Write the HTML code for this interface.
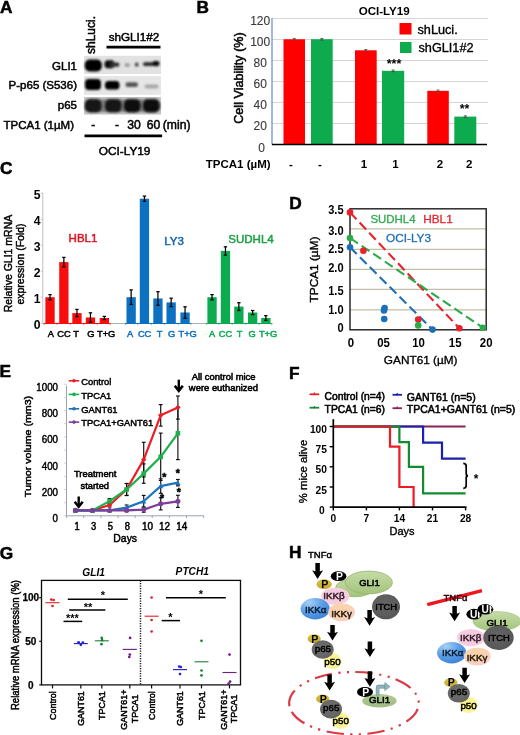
<!DOCTYPE html>
<html><head><meta charset="utf-8"><title>Figure</title>
<style>
html,body{margin:0;padding:0;background:#fff;}
body{width:520px;height:735px;overflow:hidden;font-family:"Liberation Sans",sans-serif;}
svg{display:block;font-family:"Liberation Sans",sans-serif;}
</style></head><body>
<svg width="520" height="735" viewBox="0 0 520 735">
<defs>
<filter id="blur1" x="-20%" y="-20%" width="140%" height="140%"><feGaussianBlur stdDeviation="0.9"/></filter>
<filter id="blur05" x="-20%" y="-20%" width="140%" height="140%"><feGaussianBlur stdDeviation="0.5"/></filter>
<filter id="softall" x="0" y="0" width="100%" height="100%" filterUnits="userSpaceOnUse"><feGaussianBlur stdDeviation="0.4"/></filter>
<filter id="soft" x="-5%" y="-5%" width="110%" height="110%"><feGaussianBlur stdDeviation="0.45"/></filter>

<radialGradient id="gBlue" cx="0.3" cy="0.2" r="0.9"><stop offset="0" stop-color="#a8cff6"/><stop offset="0.5" stop-color="#5b9fe6"/><stop offset="1" stop-color="#3a7fd6"/></radialGradient>
<radialGradient id="gPink" cx="0.5" cy="0.5" r="0.6"><stop offset="0" stop-color="#f7c4dc"/><stop offset="0.7" stop-color="#f6cde0"/><stop offset="1" stop-color="#f9dcea"/></radialGradient>
<radialGradient id="gPeach" cx="0.45" cy="0.4" r="0.65"><stop offset="0" stop-color="#fad3a8"/><stop offset="0.65" stop-color="#f9d2b4"/><stop offset="1" stop-color="#f8cfd0"/></radialGradient>
<linearGradient id="gGreen" x1="0" y1="0" x2="0" y2="1"><stop offset="0" stop-color="#c6dba6"/><stop offset="1" stop-color="#a3c47c"/></linearGradient>
<linearGradient id="gGreen2" x1="0" y1="0" x2="0" y2="1"><stop offset="0" stop-color="#b4cd98"/><stop offset="1" stop-color="#9dba82"/></linearGradient>
<radialGradient id="gGray" cx="0.45" cy="0.4" r="0.7"><stop offset="0" stop-color="#666"/><stop offset="1" stop-color="#555"/></radialGradient>
<radialGradient id="gGray2" cx="0.45" cy="0.4" r="0.7"><stop offset="0" stop-color="#707070"/><stop offset="1" stop-color="#606060"/></radialGradient>
<radialGradient id="gYel" cx="0.5" cy="0.5" r="0.55"><stop offset="0" stop-color="#f8f07c"/><stop offset="0.6" stop-color="#f8f28e"/><stop offset="1" stop-color="#fbf8c0"/></radialGradient>
<linearGradient id="gMust" x1="0" y1="0" x2="0" y2="1"><stop offset="0" stop-color="#d8c24a"/><stop offset="1" stop-color="#c4a92c"/></linearGradient>
</defs>
<rect x="0" y="0" width="520" height="735" fill="#fff"/>
<g filter="url(#softall)">
<g id="panelA"><text x="0" y="12.6" font-size="17.3" font-weight="bold" stroke="#000" stroke-width="0.5" text-anchor="start" fill="#000">A</text><text x="95.2" y="54" font-size="12" font-weight="normal" text-anchor="start" fill="#000" transform="rotate(-90 95.2 54)" stroke="#000" stroke-width="0.5" stroke-linejoin="round">shLuci.</text><text x="134" y="41" font-size="11.7" font-weight="normal" text-anchor="middle" fill="#000" stroke="#000" stroke-width="0.5" stroke-linejoin="round">shGLI1#2</text><line x1="106.5" y1="47.2" x2="160.5" y2="47.2" stroke="#000" stroke-width="2.7"/><text x="77" y="70.2" font-size="11.5" font-weight="normal" text-anchor="end" fill="#000" stroke="#000" stroke-width="0.5" stroke-linejoin="round">GLI1</text><text x="77" y="89.4" font-size="11.5" font-weight="normal" text-anchor="end" fill="#000" stroke="#000" stroke-width="0.5" stroke-linejoin="round">P-p65 (S536)</text><text x="77" y="108.7" font-size="11.5" font-weight="normal" text-anchor="end" fill="#000" stroke="#000" stroke-width="0.5" stroke-linejoin="round">p65</text><text x="74" y="128.8" font-size="11.5" font-weight="normal" text-anchor="end" fill="#000" stroke="#000" stroke-width="0.5" stroke-linejoin="round">TPCA1 (1µM)</text><rect x="84" y="55.8" width="77" height="18.2" fill="#e2e2e2"/><rect x="84" y="76" width="77" height="18.8" fill="#e6e6e6"/><rect x="84" y="97" width="77" height="17.6" fill="#c6c6c6"/><g filter="url(#blur1)"><rect x="85" y="99.5" width="75" height="12.5" rx="5" ry="5" fill="#7d7d7d"/></g><g filter="url(#blur1)"><rect x="84.8" y="59.5" width="17" height="12" rx="5" ry="5" fill="#000"/><rect x="104.5" y="60.3" width="10" height="8" rx="3.5" ry="3.5" fill="#0a0a0a"/><rect x="110" y="62.5" width="9.5" height="4.2" rx="2" ry="2" fill="#333"/><rect x="124.5" y="63.2" width="5.5" height="3.6" rx="1.8" ry="1.8" fill="#999"/><rect x="134.8" y="62.6" width="3.8" height="4.2" rx="1.8" ry="1.8" fill="#4a4a4a"/><rect x="143" y="62.3" width="12" height="3.8" rx="1.8" ry="1.8" fill="#2a2a2a"/><rect x="152.5" y="61" width="7" height="5.2" rx="2.4" ry="2.4" fill="#0a0a0a"/><rect x="85" y="79" width="16" height="11" rx="4" ry="4" fill="#000"/><rect x="105" y="81" width="14.5" height="8.4" rx="3.5" ry="3.5" fill="#050505"/><rect x="125.5" y="82.3" width="12.5" height="4.6" rx="2.2" ry="2.2" fill="#555"/><rect x="144.5" y="84.6" width="14" height="3.8" rx="1.8" ry="1.8" fill="#a8a8a8"/><rect x="85" y="99.2" width="16.5" height="13" rx="5" ry="5" fill="#151515"/><rect x="105" y="99.2" width="16.5" height="13" rx="5" ry="5" fill="#181818"/><rect x="124" y="99.2" width="16.5" height="13" rx="5" ry="5" fill="#0c0c0c"/><rect x="143" y="99.2" width="16.5" height="13" rx="5" ry="5" fill="#0c0c0c"/></g><text x="93.3" y="128.8" font-size="12" font-weight="normal" text-anchor="middle" fill="#000" stroke="#000" stroke-width="0.5" stroke-linejoin="round">-</text><text x="117" y="128.8" font-size="12" font-weight="normal" text-anchor="middle" fill="#000" stroke="#000" stroke-width="0.5" stroke-linejoin="round">-</text><text x="134" y="129" font-size="12.2" font-weight="normal" text-anchor="middle" fill="#000" stroke="#000" stroke-width="0.5" stroke-linejoin="round">30</text><text x="153.5" y="129" font-size="12.2" font-weight="normal" text-anchor="middle" fill="#000" stroke="#000" stroke-width="0.5" stroke-linejoin="round">60</text><text x="162.8" y="129" font-size="12.2" font-weight="normal" text-anchor="start" fill="#000" stroke="#000" stroke-width="0.5" stroke-linejoin="round">(min)</text><line x1="84.5" y1="135.9" x2="162.1" y2="135.9" stroke="#000" stroke-width="2.8"/><text x="124.6" y="154.6" font-size="11.8" font-weight="normal" text-anchor="middle" fill="#000" stroke="#000" stroke-width="0.5" stroke-linejoin="round">OCI-LY19</text></g>
<g id="panelB"><text x="196.5" y="12.6" font-size="17.3" font-weight="bold" stroke="#000" stroke-width="0.5" text-anchor="start" fill="#000">B</text><text x="384.2" y="15" font-size="11.6" font-weight="bold" text-anchor="middle" fill="#000">OCI-LY19</text><line x1="272" y1="123.5" x2="488" y2="123.5" stroke="#d6d6d6" stroke-width="1"/><line x1="272" y1="102.5" x2="488" y2="102.5" stroke="#d6d6d6" stroke-width="1"/><line x1="272" y1="81.5" x2="488" y2="81.5" stroke="#d6d6d6" stroke-width="1"/><line x1="272" y1="60.5" x2="488" y2="60.5" stroke="#d6d6d6" stroke-width="1"/><line x1="272" y1="39.5" x2="488" y2="39.5" stroke="#d6d6d6" stroke-width="1"/><line x1="272" y1="18.5" x2="488" y2="18.5" stroke="#d6d6d6" stroke-width="1"/><line x1="272" y1="18" x2="272" y2="144.5" stroke="#6a97cf" stroke-width="1.3"/><text x="261.6" y="151.5" font-size="12" font-weight="normal" text-anchor="middle" fill="#3a3a3a" stroke="#3a3a3a" stroke-width="0.12" stroke-linejoin="round">0</text><text x="260.2" y="130.45" font-size="12" font-weight="normal" text-anchor="middle" fill="#3a3a3a" stroke="#3a3a3a" stroke-width="0.12" stroke-linejoin="round">20</text><text x="260.2" y="109.4" font-size="12" font-weight="normal" text-anchor="middle" fill="#3a3a3a" stroke="#3a3a3a" stroke-width="0.12" stroke-linejoin="round">40</text><text x="260.2" y="88.35" font-size="12" font-weight="normal" text-anchor="middle" fill="#3a3a3a" stroke="#3a3a3a" stroke-width="0.12" stroke-linejoin="round">60</text><text x="260.2" y="67.3" font-size="12" font-weight="normal" text-anchor="middle" fill="#3a3a3a" stroke="#3a3a3a" stroke-width="0.12" stroke-linejoin="round">80</text><text x="260.2" y="46.25" font-size="12" font-weight="normal" text-anchor="middle" fill="#3a3a3a" stroke="#3a3a3a" stroke-width="0.12" stroke-linejoin="round">100</text><text x="260.2" y="25.200000000000003" font-size="12" font-weight="normal" text-anchor="middle" fill="#3a3a3a" stroke="#3a3a3a" stroke-width="0.12" stroke-linejoin="round">120</text><rect x="283.5" y="39.25" width="21.5" height="105.25" fill="#fe0505"/><line x1="294.25" y1="38.45" x2="294.25" y2="40.05" stroke="#444" stroke-width="0.8"/><line x1="292.75" y1="38.45" x2="295.75" y2="38.45" stroke="#444" stroke-width="0.8"/><line x1="292.75" y1="40.05" x2="295.75" y2="40.05" stroke="#444" stroke-width="0.8"/><rect x="311" y="39.25" width="21.7" height="105.25" fill="#0cab4e"/><line x1="321.85" y1="38.45" x2="321.85" y2="40.05" stroke="#444" stroke-width="0.8"/><line x1="320.35" y1="38.45" x2="323.35" y2="38.45" stroke="#444" stroke-width="0.8"/><line x1="320.35" y1="40.05" x2="323.35" y2="40.05" stroke="#444" stroke-width="0.8"/><rect x="355" y="50.301249999999996" width="21.7" height="94.19875" fill="#fe0505"/><line x1="365.85" y1="49.50125" x2="365.85" y2="51.10124999999999" stroke="#444" stroke-width="0.8"/><line x1="364.35" y1="49.50125" x2="367.35" y2="49.50125" stroke="#444" stroke-width="0.8"/><line x1="364.35" y1="51.10124999999999" x2="367.35" y2="51.10124999999999" stroke="#444" stroke-width="0.8"/><rect x="382" y="70.825" width="22.2" height="73.675" fill="#0cab4e"/><line x1="393.1" y1="70.025" x2="393.1" y2="71.625" stroke="#444" stroke-width="0.8"/><line x1="391.6" y1="70.025" x2="394.6" y2="70.025" stroke="#444" stroke-width="0.8"/><line x1="391.6" y1="71.625" x2="394.6" y2="71.625" stroke="#444" stroke-width="0.8"/><rect x="427.3" y="90.82249999999999" width="21.5" height="53.6775" fill="#fe0505"/><line x1="438.05" y1="90.0225" x2="438.05" y2="91.62249999999999" stroke="#444" stroke-width="0.8"/><line x1="436.55" y1="90.0225" x2="439.55" y2="90.0225" stroke="#444" stroke-width="0.8"/><line x1="436.55" y1="91.62249999999999" x2="439.55" y2="91.62249999999999" stroke="#444" stroke-width="0.8"/><rect x="454.3" y="116.60875" width="22" height="27.89125" fill="#0cab4e"/><line x1="465.3" y1="115.80875" x2="465.3" y2="117.40875" stroke="#444" stroke-width="0.8"/><line x1="463.8" y1="115.80875" x2="466.8" y2="115.80875" stroke="#444" stroke-width="0.8"/><line x1="463.8" y1="117.40875" x2="466.8" y2="117.40875" stroke="#444" stroke-width="0.8"/><line x1="272" y1="144.5" x2="487" y2="144.5" stroke="#000" stroke-width="1.6"/><rect x="399.5" y="23" width="12" height="11.5" fill="#fe0505"/><text x="417.5" y="34.3" font-size="12.7" font-weight="normal" text-anchor="start" fill="#000" stroke="#000" stroke-width="0.35" stroke-linejoin="round">shLuci.</text><rect x="400" y="42" width="11.5" height="11" fill="#0cab4e"/><text x="418.5" y="52.4" font-size="12.7" font-weight="normal" text-anchor="start" fill="#000" stroke="#000" stroke-width="0.35" stroke-linejoin="round">shGLI1#2</text><text x="394" y="67.5" font-size="12.5" font-weight="bold" text-anchor="middle" fill="#000">***</text><text x="464.5" y="112.8" font-size="12.5" font-weight="bold" text-anchor="middle" fill="#000">**</text><text x="205.8" y="168" font-size="11.5" font-weight="bold" text-anchor="start" fill="#000">TPCA1 (µM)</text><text x="291" y="167.5" font-size="11.5" font-weight="bold" text-anchor="middle" fill="#000">-</text><text x="320" y="167.5" font-size="11.5" font-weight="bold" text-anchor="middle" fill="#000">-</text><text x="364" y="167.5" font-size="11.5" font-weight="bold" text-anchor="middle" fill="#000">1</text><text x="395.4" y="167.5" font-size="11.5" font-weight="bold" text-anchor="middle" fill="#000">1</text><text x="440" y="167.5" font-size="11.5" font-weight="bold" text-anchor="middle" fill="#000">2</text><text x="469.2" y="167.5" font-size="11.5" font-weight="bold" text-anchor="middle" fill="#000">2</text><text x="243.4" y="78" font-size="12.6" font-weight="normal" text-anchor="middle" fill="#000" transform="rotate(-90 243.4 78)" stroke="#000" stroke-width="0.5" stroke-linejoin="round">Cell Viability (%)</text></g>
<g id="panelC"><text x="0" y="174.3" font-size="17.3" font-weight="bold" stroke="#000" stroke-width="0.5" text-anchor="start" fill="#000">C</text><line x1="42.8" y1="193.2" x2="42.8" y2="323.5" stroke="#b0b0b0" stroke-width="0.8"/><line x1="40.8" y1="323.2" x2="42.8" y2="323.2" stroke="#b0b0b0" stroke-width="0.8"/><text x="40.5" y="328.8" font-size="12.2" font-weight="bold" text-anchor="end" fill="#000">0</text><line x1="40.8" y1="297.2" x2="42.8" y2="297.2" stroke="#b0b0b0" stroke-width="0.8"/><text x="40.5" y="302.8" font-size="12.2" font-weight="bold" text-anchor="end" fill="#000">1</text><line x1="40.8" y1="271.2" x2="42.8" y2="271.2" stroke="#b0b0b0" stroke-width="0.8"/><text x="40.5" y="276.8" font-size="12.2" font-weight="bold" text-anchor="end" fill="#000">2</text><line x1="40.8" y1="245.2" x2="42.8" y2="245.2" stroke="#b0b0b0" stroke-width="0.8"/><text x="40.5" y="250.8" font-size="12.2" font-weight="bold" text-anchor="end" fill="#000">3</text><line x1="40.8" y1="219.2" x2="42.8" y2="219.2" stroke="#b0b0b0" stroke-width="0.8"/><text x="40.5" y="224.8" font-size="12.2" font-weight="bold" text-anchor="end" fill="#000">4</text><line x1="40.8" y1="193.2" x2="42.8" y2="193.2" stroke="#b0b0b0" stroke-width="0.8"/><text x="40.5" y="198.8" font-size="12.2" font-weight="bold" text-anchor="end" fill="#000">5</text><text x="11.5" y="263.5" font-size="10.5" font-weight="normal" text-anchor="middle" fill="#000" transform="rotate(-90 11.5 263.5)" stroke="#000" stroke-width="0.45" stroke-linejoin="round">Relative GLI1 mRNA</text><text x="24" y="264" font-size="10.5" font-weight="normal" text-anchor="middle" fill="#000" transform="rotate(-90 24 264)" stroke="#000" stroke-width="0.45" stroke-linejoin="round">expression (Fold)</text><line x1="42.8" y1="323.5" x2="272.7" y2="323.5" stroke="#a8a8a8" stroke-width="0.9"/><line x1="44.199999999999996" y1="323.5" x2="110.2" y2="323.5" stroke="#f80b0c" stroke-width="1"/><line x1="44.2" y1="323.2" x2="44.2" y2="325.2" stroke="#f80b0c" stroke-width="0.7" opacity="0.7"/><line x1="57.0" y1="323.2" x2="57.0" y2="325.2" stroke="#f80b0c" stroke-width="0.7" opacity="0.7"/><line x1="70.4" y1="323.2" x2="70.4" y2="325.2" stroke="#f80b0c" stroke-width="0.7" opacity="0.7"/><line x1="83.7" y1="323.2" x2="83.7" y2="325.2" stroke="#f80b0c" stroke-width="0.7" opacity="0.7"/><line x1="97.4" y1="323.2" x2="97.4" y2="325.2" stroke="#f80b0c" stroke-width="0.7" opacity="0.7"/><line x1="110.2" y1="323.2" x2="110.2" y2="325.2" stroke="#f80b0c" stroke-width="0.7" opacity="0.7"/><rect x="45.4" y="297.2" width="9.3" height="26.0" fill="#f80b0c"/><line x1="50.05" y1="294.6" x2="50.05" y2="299.8" stroke="#000" stroke-width="1.25"/><line x1="48.349999999999994" y1="294.6" x2="51.75" y2="294.6" stroke="#000" stroke-width="1.25"/><line x1="48.349999999999994" y1="299.8" x2="51.75" y2="299.8" stroke="#000" stroke-width="1.25"/><rect x="59.2" y="262.1" width="9.3" height="61.1" fill="#f80b0c"/><line x1="63.85" y1="257.4" x2="63.85" y2="266.8" stroke="#000" stroke-width="1.25"/><line x1="62.15" y1="257.4" x2="65.55" y2="257.4" stroke="#000" stroke-width="1.25"/><line x1="62.15" y1="266.8" x2="65.55" y2="266.8" stroke="#000" stroke-width="1.25"/><rect x="72.3" y="313.1" width="9.3" height="10.1" fill="#f80b0c"/><line x1="76.95" y1="309.4" x2="76.95" y2="316.7" stroke="#000" stroke-width="1.25"/><line x1="75.25" y1="309.4" x2="78.65" y2="309.4" stroke="#000" stroke-width="1.25"/><line x1="75.25" y1="316.7" x2="78.65" y2="316.7" stroke="#000" stroke-width="1.25"/><rect x="85.8" y="317.5" width="9.3" height="5.7" fill="#f80b0c"/><line x1="90.45" y1="312.8" x2="90.45" y2="322.2" stroke="#000" stroke-width="1.25"/><line x1="88.75" y1="312.8" x2="92.15" y2="312.8" stroke="#000" stroke-width="1.25"/><line x1="88.75" y1="322.2" x2="92.15" y2="322.2" stroke="#000" stroke-width="1.25"/><rect x="99.7" y="318.0" width="9.3" height="5.2" fill="#f80b0c"/><line x1="104.35000000000001" y1="316.4" x2="104.35000000000001" y2="319.6" stroke="#000" stroke-width="1.25"/><line x1="102.65" y1="316.4" x2="106.05000000000001" y2="316.4" stroke="#000" stroke-width="1.25"/><line x1="102.65" y1="319.6" x2="106.05000000000001" y2="319.6" stroke="#000" stroke-width="1.25"/><text x="83" y="242" font-size="11.5" font-weight="normal" text-anchor="middle" fill="#d81925" stroke="#d81925" stroke-width="0.5" stroke-linejoin="round">HBL1</text><text x="50.8" y="336.6" font-size="9.3" font-weight="normal" text-anchor="middle" fill="#000" stroke="#000" stroke-width="0.5" stroke-linejoin="round">A</text><text x="64" y="336.6" font-size="9.3" font-weight="normal" text-anchor="middle" fill="#000" stroke="#000" stroke-width="0.5" stroke-linejoin="round">CC</text><text x="76.2" y="336.6" font-size="9.3" font-weight="normal" text-anchor="middle" fill="#000" stroke="#000" stroke-width="0.5" stroke-linejoin="round">T</text><text x="90.8" y="336.6" font-size="9.3" font-weight="normal" text-anchor="middle" fill="#000" stroke="#000" stroke-width="0.5" stroke-linejoin="round">G</text><text x="106.2" y="336.6" font-size="9.3" font-weight="normal" text-anchor="middle" fill="#000" stroke="#000" stroke-width="0.5" stroke-linejoin="round">T+G</text><line x1="125.3" y1="323.5" x2="190.9" y2="323.5" stroke="#0d71c2" stroke-width="1"/><line x1="125.3" y1="323.2" x2="125.3" y2="325.2" stroke="#0d71c2" stroke-width="0.7" opacity="0.7"/><line x1="137.8" y1="323.2" x2="137.8" y2="325.2" stroke="#0d71c2" stroke-width="0.7" opacity="0.7"/><line x1="151.2" y1="323.2" x2="151.2" y2="325.2" stroke="#0d71c2" stroke-width="0.7" opacity="0.7"/><line x1="164.6" y1="323.2" x2="164.6" y2="325.2" stroke="#0d71c2" stroke-width="0.7" opacity="0.7"/><line x1="178.1" y1="323.2" x2="178.1" y2="325.2" stroke="#0d71c2" stroke-width="0.7" opacity="0.7"/><line x1="190.9" y1="323.2" x2="190.9" y2="325.2" stroke="#0d71c2" stroke-width="0.7" opacity="0.7"/><rect x="126.5" y="297.2" width="9.3" height="26.0" fill="#0d71c2"/><line x1="131.15" y1="289.9" x2="131.15" y2="304.5" stroke="#000" stroke-width="1.25"/><line x1="129.45000000000002" y1="289.9" x2="132.85" y2="289.9" stroke="#000" stroke-width="1.25"/><line x1="129.45000000000002" y1="304.5" x2="132.85" y2="304.5" stroke="#000" stroke-width="1.25"/><rect x="139.8" y="198.7" width="9.3" height="124.5" fill="#0d71c2"/><line x1="144.45000000000002" y1="196.1" x2="144.45000000000002" y2="201.3" stroke="#000" stroke-width="1.25"/><line x1="142.75000000000003" y1="196.1" x2="146.15" y2="196.1" stroke="#000" stroke-width="1.25"/><line x1="142.75000000000003" y1="201.3" x2="146.15" y2="201.3" stroke="#000" stroke-width="1.25"/><rect x="153.3" y="298.5" width="9.3" height="24.7" fill="#0d71c2"/><line x1="157.95000000000002" y1="291.7" x2="157.95000000000002" y2="305.3" stroke="#000" stroke-width="1.25"/><line x1="156.25000000000003" y1="291.7" x2="159.65" y2="291.7" stroke="#000" stroke-width="1.25"/><line x1="156.25000000000003" y1="305.3" x2="159.65" y2="305.3" stroke="#000" stroke-width="1.25"/><rect x="166.5" y="302.4" width="9.3" height="20.8" fill="#0d71c2"/><line x1="171.15" y1="298.2" x2="171.15" y2="306.6" stroke="#000" stroke-width="1.25"/><line x1="169.45000000000002" y1="298.2" x2="172.85" y2="298.2" stroke="#000" stroke-width="1.25"/><line x1="169.45000000000002" y1="306.6" x2="172.85" y2="306.6" stroke="#000" stroke-width="1.25"/><rect x="180.4" y="312.5" width="9.3" height="10.7" fill="#0d71c2"/><line x1="185.05" y1="306.8" x2="185.05" y2="318.3" stroke="#000" stroke-width="1.25"/><line x1="183.35000000000002" y1="306.8" x2="186.75" y2="306.8" stroke="#000" stroke-width="1.25"/><line x1="183.35000000000002" y1="318.3" x2="186.75" y2="318.3" stroke="#000" stroke-width="1.25"/><text x="174" y="244.5" font-size="11.5" font-weight="normal" text-anchor="middle" fill="#2068ad" stroke="#2068ad" stroke-width="0.5" stroke-linejoin="round">LY3</text><text x="130" y="336.6" font-size="9.3" font-weight="normal" text-anchor="middle" fill="#0d71c2" stroke="#0d71c2" stroke-width="0.5" stroke-linejoin="round">A</text><text x="144.6" y="336.6" font-size="9.3" font-weight="normal" text-anchor="middle" fill="#0d71c2" stroke="#0d71c2" stroke-width="0.5" stroke-linejoin="round">CC</text><text x="159.7" y="336.6" font-size="9.3" font-weight="normal" text-anchor="middle" fill="#0d71c2" stroke="#0d71c2" stroke-width="0.5" stroke-linejoin="round">T</text><text x="171.7" y="336.6" font-size="9.3" font-weight="normal" text-anchor="middle" fill="#0d71c2" stroke="#0d71c2" stroke-width="0.5" stroke-linejoin="round">G</text><text x="187.7" y="336.6" font-size="9.3" font-weight="normal" text-anchor="middle" fill="#0d71c2" stroke="#0d71c2" stroke-width="0.5" stroke-linejoin="round">T+G</text><line x1="206.20000000000002" y1="323.5" x2="271.7" y2="323.5" stroke="#0aab50" stroke-width="1"/><line x1="206.2" y1="323.2" x2="206.2" y2="325.2" stroke="#0aab50" stroke-width="0.7" opacity="0.7"/><line x1="218.8" y1="323.2" x2="218.8" y2="325.2" stroke="#0aab50" stroke-width="0.7" opacity="0.7"/><line x1="232.2" y1="323.2" x2="232.2" y2="325.2" stroke="#0aab50" stroke-width="0.7" opacity="0.7"/><line x1="245.8" y1="323.2" x2="245.8" y2="325.2" stroke="#0aab50" stroke-width="0.7" opacity="0.7"/><line x1="259.2" y1="323.2" x2="259.2" y2="325.2" stroke="#0aab50" stroke-width="0.7" opacity="0.7"/><line x1="271.7" y1="323.2" x2="271.7" y2="325.2" stroke="#0aab50" stroke-width="0.7" opacity="0.7"/><rect x="207.4" y="297.2" width="9.3" height="26.0" fill="#0aab50"/><line x1="212.05" y1="294.6" x2="212.05" y2="299.8" stroke="#000" stroke-width="1.25"/><line x1="210.35000000000002" y1="294.6" x2="213.75" y2="294.6" stroke="#000" stroke-width="1.25"/><line x1="210.35000000000002" y1="299.8" x2="213.75" y2="299.8" stroke="#000" stroke-width="1.25"/><rect x="220.8" y="250.9" width="9.3" height="72.3" fill="#0aab50"/><line x1="225.45000000000002" y1="246.8" x2="225.45000000000002" y2="255.1" stroke="#000" stroke-width="1.25"/><line x1="223.75000000000003" y1="246.8" x2="227.15" y2="246.8" stroke="#000" stroke-width="1.25"/><line x1="223.75000000000003" y1="255.1" x2="227.15" y2="255.1" stroke="#000" stroke-width="1.25"/><rect x="234.2" y="306.6" width="9.3" height="16.6" fill="#0aab50"/><line x1="238.85" y1="302.7" x2="238.85" y2="310.5" stroke="#000" stroke-width="1.25"/><line x1="237.15" y1="302.7" x2="240.54999999999998" y2="302.7" stroke="#000" stroke-width="1.25"/><line x1="237.15" y1="310.5" x2="240.54999999999998" y2="310.5" stroke="#000" stroke-width="1.25"/><rect x="248" y="312.5" width="9.3" height="10.7" fill="#0aab50"/><line x1="252.65" y1="310.5" x2="252.65" y2="314.6" stroke="#000" stroke-width="1.25"/><line x1="250.95000000000002" y1="310.5" x2="254.35" y2="310.5" stroke="#000" stroke-width="1.25"/><line x1="250.95000000000002" y1="314.6" x2="254.35" y2="314.6" stroke="#000" stroke-width="1.25"/><rect x="261.2" y="318.0" width="9.3" height="5.2" fill="#0aab50"/><line x1="265.84999999999997" y1="315.7" x2="265.84999999999997" y2="320.3" stroke="#000" stroke-width="1.25"/><line x1="264.15" y1="315.7" x2="267.54999999999995" y2="315.7" stroke="#000" stroke-width="1.25"/><line x1="264.15" y1="320.3" x2="267.54999999999995" y2="320.3" stroke="#000" stroke-width="1.25"/><text x="251" y="242.5" font-size="11.5" font-weight="normal" text-anchor="middle" fill="#1f9f47" stroke="#1f9f47" stroke-width="0.5" stroke-linejoin="round">SUDHL4</text><text x="212" y="336.6" font-size="9.3" font-weight="normal" text-anchor="middle" fill="#0aab50" stroke="#0aab50" stroke-width="0.5" stroke-linejoin="round">A</text><text x="225.4" y="336.6" font-size="9.3" font-weight="normal" text-anchor="middle" fill="#0aab50" stroke="#0aab50" stroke-width="0.5" stroke-linejoin="round">CC</text><text x="239.7" y="336.6" font-size="9.3" font-weight="normal" text-anchor="middle" fill="#0aab50" stroke="#0aab50" stroke-width="0.5" stroke-linejoin="round">T</text><text x="252" y="336.6" font-size="9.3" font-weight="normal" text-anchor="middle" fill="#0aab50" stroke="#0aab50" stroke-width="0.5" stroke-linejoin="round">G</text><text x="268.1" y="336.6" font-size="9.3" font-weight="normal" text-anchor="middle" fill="#0aab50" stroke="#0aab50" stroke-width="0.5" stroke-linejoin="round">T+G</text></g>
<g id="panelD"><text x="289.2" y="208.8" font-size="17.3" font-weight="bold" stroke="#000" stroke-width="0.5" text-anchor="start" fill="#000">D</text><line x1="350" y1="228.9" x2="486.2" y2="228.9" stroke="#c2bea4" stroke-width="1.3"/><line x1="350" y1="249.3" x2="486.2" y2="249.3" stroke="#c2bea4" stroke-width="1.3"/><line x1="350" y1="269.3" x2="486.2" y2="269.3" stroke="#c2bea4" stroke-width="1.3"/><line x1="350" y1="289.3" x2="486.2" y2="289.3" stroke="#c2bea4" stroke-width="1.3"/><line x1="350" y1="309.8" x2="486.2" y2="309.8" stroke="#c2bea4" stroke-width="1.3"/><text transform="translate(343.6 214) scale(0.88 1)" font-size="12.6" font-weight="bold" text-anchor="end" fill="#000">3.5</text><text transform="translate(343.6 234.5) scale(0.88 1)" font-size="12.6" font-weight="bold" text-anchor="end" fill="#000">3.0</text><text transform="translate(343.6 252.6) scale(0.88 1)" font-size="12.6" font-weight="bold" text-anchor="end" fill="#000">2.5</text><text transform="translate(343.6 271.8) scale(0.88 1)" font-size="12.6" font-weight="bold" text-anchor="end" fill="#000">2.0</text><text transform="translate(343.6 294.6) scale(0.88 1)" font-size="12.6" font-weight="bold" text-anchor="end" fill="#000">1.5</text><text transform="translate(343.6 313.8) scale(0.88 1)" font-size="12.6" font-weight="bold" text-anchor="end" fill="#000">1.0</text><text transform="translate(343.6 331.5) scale(0.88 1)" font-size="12.6" font-weight="bold" text-anchor="end" fill="#000">0</text><text transform="translate(350.8 346.5) scale(0.92 1)" font-size="12.4" font-weight="bold" text-anchor="middle" fill="#000">0</text><text transform="translate(383.5 346.5) scale(0.92 1)" font-size="12.4" font-weight="bold" text-anchor="middle" fill="#000">05</text><text transform="translate(418.6 346.5) scale(0.92 1)" font-size="12.4" font-weight="bold" text-anchor="middle" fill="#000">10</text><text transform="translate(455.2 346.5) scale(0.92 1)" font-size="12.4" font-weight="bold" text-anchor="middle" fill="#000">15</text><text transform="translate(486.2 346.5) scale(0.92 1)" font-size="12.4" font-weight="bold" text-anchor="middle" fill="#000">20</text><text x="420.7" y="364.4" font-size="11.8" font-weight="normal" text-anchor="middle" fill="#000" stroke="#000" stroke-width="0.35" stroke-linejoin="round">GANT61 (µM)</text><text x="318.4" y="269.5" font-size="11.8" font-weight="normal" text-anchor="middle" fill="#000" transform="rotate(-90 318.4 269.5)" stroke="#000" stroke-width="0.4" stroke-linejoin="round">TPCA1 (µM)</text><line x1="350" y1="212.4" x2="459.4" y2="328.3" stroke="#e8212b" stroke-width="2.1" stroke-dasharray="9.5 4.5" stroke-linecap="butt"/><line x1="350" y1="238" x2="482.9" y2="327.7" stroke="#2bab4a" stroke-width="2.1" stroke-dasharray="9.5 4.5" stroke-linecap="butt"/><line x1="350" y1="247.3" x2="432.5" y2="329.6" stroke="#1f6fb8" stroke-width="2.1" stroke-dasharray="9.5 4.5" stroke-linecap="butt"/><rect x="350" y="208.8" width="136.2" height="121.0" fill="none" stroke="#2a2a2a" stroke-width="1.5"/><circle cx="350" cy="212.4" r="3.3" fill="#e8212b"/><circle cx="350" cy="238" r="3.3" fill="#2bab4a"/><circle cx="350" cy="247.2" r="3.3" fill="#1f6fb8"/><circle cx="363.4" cy="250.8" r="3.3" fill="#e8212b"/><circle cx="384.6" cy="308" r="3.3" fill="#1f6fb8"/><circle cx="384" cy="310.4" r="3.3" fill="#1f6fb8"/><circle cx="384.2" cy="319" r="3.3" fill="#1f6fb8"/><circle cx="418.2" cy="319.6" r="3.3" fill="#e8212b"/><circle cx="418.2" cy="325.4" r="3.3" fill="#2bab4a"/><circle cx="432.5" cy="329.6" r="3.3" fill="#1f6fb8"/><circle cx="459.4" cy="328.3" r="3.3" fill="#e8212b"/><circle cx="482.9" cy="327.7" r="3.3" fill="#2bab4a"/><text x="393" y="223" font-size="11.4" font-weight="normal" text-anchor="middle" fill="#2bab4a" stroke="#2bab4a" stroke-width="0.3" stroke-linejoin="round">SUDHL4</text><text x="438" y="223" font-size="11.8" font-weight="normal" text-anchor="middle" fill="#e8212b" stroke="#e8212b" stroke-width="0.3" stroke-linejoin="round">HBL1</text><text x="408.5" y="242" font-size="11.8" font-weight="normal" text-anchor="middle" fill="#1f6fb8" stroke="#1f6fb8" stroke-width="0.3" stroke-linejoin="round">OCI-LY3</text></g>
<g id="panelE"><text x="-0.5" y="376.5" font-size="17.3" font-weight="bold" stroke="#000" stroke-width="0.5" text-anchor="start" fill="#000">E</text><line x1="66.5" y1="385.5" x2="66.5" y2="515.8" stroke="#9aa3ad" stroke-width="1"/><line x1="66.5" y1="515.8" x2="203.7" y2="515.8" stroke="#9aa3ad" stroke-width="1"/><line x1="66.6" y1="515.8" x2="66.6" y2="518.0" stroke="#9aa3ad" stroke-width="1"/><line x1="83.7" y1="515.8" x2="83.7" y2="518.0" stroke="#9aa3ad" stroke-width="1"/><line x1="100.9" y1="515.8" x2="100.9" y2="518.0" stroke="#9aa3ad" stroke-width="1"/><line x1="118.0" y1="515.8" x2="118.0" y2="518.0" stroke="#9aa3ad" stroke-width="1"/><line x1="135.1" y1="515.8" x2="135.1" y2="518.0" stroke="#9aa3ad" stroke-width="1"/><line x1="152.2" y1="515.8" x2="152.2" y2="518.0" stroke="#9aa3ad" stroke-width="1"/><line x1="169.4" y1="515.8" x2="169.4" y2="518.0" stroke="#9aa3ad" stroke-width="1"/><line x1="186.5" y1="515.8" x2="186.5" y2="518.0" stroke="#9aa3ad" stroke-width="1"/><line x1="203.6" y1="515.8" x2="203.6" y2="518.0" stroke="#9aa3ad" stroke-width="1"/><line x1="64.3" y1="515.8" x2="66.5" y2="515.8" stroke="#b5bcc4" stroke-width="0.8"/><line x1="64.3" y1="502.6" x2="66.5" y2="502.6" stroke="#b5bcc4" stroke-width="0.8"/><line x1="64.3" y1="489.5" x2="66.5" y2="489.5" stroke="#b5bcc4" stroke-width="0.8"/><line x1="64.3" y1="476.3" x2="66.5" y2="476.3" stroke="#b5bcc4" stroke-width="0.8"/><line x1="64.3" y1="463.2" x2="66.5" y2="463.2" stroke="#b5bcc4" stroke-width="0.8"/><line x1="64.3" y1="450.0" x2="66.5" y2="450.0" stroke="#b5bcc4" stroke-width="0.8"/><line x1="64.3" y1="436.9" x2="66.5" y2="436.9" stroke="#b5bcc4" stroke-width="0.8"/><line x1="64.3" y1="423.7" x2="66.5" y2="423.7" stroke="#b5bcc4" stroke-width="0.8"/><line x1="64.3" y1="410.6" x2="66.5" y2="410.6" stroke="#b5bcc4" stroke-width="0.8"/><line x1="64.3" y1="397.4" x2="66.5" y2="397.4" stroke="#b5bcc4" stroke-width="0.8"/><line x1="64.3" y1="384.3" x2="66.5" y2="384.3" stroke="#b5bcc4" stroke-width="0.8"/><text transform="translate(58 522.1999999999999) scale(0.905 1)" font-size="10.8" font-weight="normal" text-anchor="end" fill="#000" stroke="#000" stroke-width="0.45" stroke-linejoin="round">0</text><text transform="translate(58 495.9) scale(0.905 1)" font-size="10.8" font-weight="normal" text-anchor="end" fill="#000" stroke="#000" stroke-width="0.45" stroke-linejoin="round">200</text><text transform="translate(58 469.59999999999997) scale(0.905 1)" font-size="10.8" font-weight="normal" text-anchor="end" fill="#000" stroke="#000" stroke-width="0.45" stroke-linejoin="round">400</text><text transform="translate(58 443.29999999999995) scale(0.905 1)" font-size="10.8" font-weight="normal" text-anchor="end" fill="#000" stroke="#000" stroke-width="0.45" stroke-linejoin="round">600</text><text transform="translate(58 417.0) scale(0.905 1)" font-size="10.8" font-weight="normal" text-anchor="end" fill="#000" stroke="#000" stroke-width="0.45" stroke-linejoin="round">800</text><text transform="translate(58 390.7) scale(0.905 1)" font-size="10.8" font-weight="normal" text-anchor="end" fill="#000" stroke="#000" stroke-width="0.45" stroke-linejoin="round">1000</text><text transform="translate(77 530.2) scale(0.91 1)" font-size="10.3" font-weight="normal" text-anchor="middle" fill="#000" stroke="#000" stroke-width="0.5" stroke-linejoin="round">1</text><text transform="translate(93.7 530.2) scale(0.91 1)" font-size="10.3" font-weight="normal" text-anchor="middle" fill="#000" stroke="#000" stroke-width="0.5" stroke-linejoin="round">3</text><text transform="translate(110.4 530.2) scale(0.91 1)" font-size="10.3" font-weight="normal" text-anchor="middle" fill="#000" stroke="#000" stroke-width="0.5" stroke-linejoin="round">5</text><text transform="translate(127.3 530.2) scale(0.91 1)" font-size="10.3" font-weight="normal" text-anchor="middle" fill="#000" stroke="#000" stroke-width="0.5" stroke-linejoin="round">8</text><text transform="translate(147.5 530.2) scale(0.97 1)" font-size="10.3" font-weight="normal" text-anchor="middle" fill="#000" stroke="#000" stroke-width="0.5" stroke-linejoin="round">10</text><text transform="translate(164.5 530.2) scale(0.97 1)" font-size="10.3" font-weight="normal" text-anchor="middle" fill="#000" stroke="#000" stroke-width="0.5" stroke-linejoin="round">12</text><text transform="translate(181.7 530.2) scale(0.97 1)" font-size="10.3" font-weight="normal" text-anchor="middle" fill="#000" stroke="#000" stroke-width="0.5" stroke-linejoin="round">14</text><text transform="translate(125.2 542.3) scale(1.0 1)" font-size="10.4" font-weight="normal" text-anchor="middle" fill="#000" stroke="#000" stroke-width="0.5" stroke-linejoin="round">Days</text><text transform="translate(31.3 446.5) rotate(-90) scale(1.11 1)" font-size="9.6" font-weight="normal" text-anchor="middle" fill="#000" stroke="#000" stroke-width="0.45" stroke-linejoin="round">Tumor volume (mm3)</text><line x1="109.6" y1="503.0" x2="109.6" y2="507.0" stroke="#111" stroke-width="1.15"/><line x1="107.69999999999999" y1="503.0" x2="111.5" y2="503.0" stroke="#111" stroke-width="1.15"/><line x1="107.69999999999999" y1="507.0" x2="111.5" y2="507.0" stroke="#111" stroke-width="1.15"/><line x1="126.6" y1="483.5" x2="126.6" y2="495.5" stroke="#111" stroke-width="1.15"/><line x1="124.69999999999999" y1="483.5" x2="128.5" y2="483.5" stroke="#111" stroke-width="1.15"/><line x1="124.69999999999999" y1="495.5" x2="128.5" y2="495.5" stroke="#111" stroke-width="1.15"/><line x1="143.7" y1="442.3" x2="143.7" y2="477.0" stroke="#111" stroke-width="1.15"/><line x1="141.79999999999998" y1="442.3" x2="145.6" y2="442.3" stroke="#111" stroke-width="1.15"/><line x1="141.79999999999998" y1="477.0" x2="145.6" y2="477.0" stroke="#111" stroke-width="1.15"/><line x1="160.7" y1="404.6" x2="160.7" y2="426.1" stroke="#111" stroke-width="1.15"/><line x1="158.79999999999998" y1="404.6" x2="162.6" y2="404.6" stroke="#111" stroke-width="1.15"/><line x1="158.79999999999998" y1="426.1" x2="162.6" y2="426.1" stroke="#111" stroke-width="1.15"/><line x1="177.9" y1="396.0" x2="177.9" y2="419.1" stroke="#111" stroke-width="1.15"/><line x1="176.0" y1="396.0" x2="179.8" y2="396.0" stroke="#111" stroke-width="1.15"/><line x1="176.0" y1="419.1" x2="179.8" y2="419.1" stroke="#111" stroke-width="1.15"/><line x1="109.6" y1="498.6" x2="109.6" y2="503.6" stroke="#111" stroke-width="1.15"/><line x1="107.69999999999999" y1="498.6" x2="111.5" y2="498.6" stroke="#111" stroke-width="1.15"/><line x1="107.69999999999999" y1="503.6" x2="111.5" y2="503.6" stroke="#111" stroke-width="1.15"/><line x1="126.6" y1="483.5" x2="126.6" y2="495.5" stroke="#111" stroke-width="1.15"/><line x1="124.69999999999999" y1="483.5" x2="128.5" y2="483.5" stroke="#111" stroke-width="1.15"/><line x1="124.69999999999999" y1="495.5" x2="128.5" y2="495.5" stroke="#111" stroke-width="1.15"/><line x1="143.7" y1="463.9" x2="143.7" y2="483.3" stroke="#111" stroke-width="1.15"/><line x1="141.79999999999998" y1="463.9" x2="145.6" y2="463.9" stroke="#111" stroke-width="1.15"/><line x1="141.79999999999998" y1="483.3" x2="145.6" y2="483.3" stroke="#111" stroke-width="1.15"/><line x1="160.7" y1="433.1" x2="160.7" y2="480.4" stroke="#111" stroke-width="1.15"/><line x1="158.79999999999998" y1="433.1" x2="162.6" y2="433.1" stroke="#111" stroke-width="1.15"/><line x1="158.79999999999998" y1="480.4" x2="162.6" y2="480.4" stroke="#111" stroke-width="1.15"/><line x1="177.9" y1="407.0" x2="177.9" y2="459.6" stroke="#111" stroke-width="1.15"/><line x1="176.0" y1="407.0" x2="179.8" y2="407.0" stroke="#111" stroke-width="1.15"/><line x1="176.0" y1="459.6" x2="179.8" y2="459.6" stroke="#111" stroke-width="1.15"/><line x1="126.6" y1="505.0" x2="126.6" y2="510.3" stroke="#111" stroke-width="1.15"/><line x1="124.69999999999999" y1="505.0" x2="128.5" y2="505.0" stroke="#111" stroke-width="1.15"/><line x1="124.69999999999999" y1="510.3" x2="128.5" y2="510.3" stroke="#111" stroke-width="1.15"/><line x1="143.7" y1="495.4" x2="143.7" y2="507.3" stroke="#111" stroke-width="1.15"/><line x1="141.79999999999998" y1="495.4" x2="145.6" y2="495.4" stroke="#111" stroke-width="1.15"/><line x1="141.79999999999998" y1="507.3" x2="145.6" y2="507.3" stroke="#111" stroke-width="1.15"/><line x1="160.7" y1="478.8" x2="160.7" y2="493.3" stroke="#111" stroke-width="1.15"/><line x1="158.79999999999998" y1="478.8" x2="162.6" y2="478.8" stroke="#111" stroke-width="1.15"/><line x1="158.79999999999998" y1="493.3" x2="162.6" y2="493.3" stroke="#111" stroke-width="1.15"/><line x1="177.9" y1="479.5" x2="177.9" y2="485.8" stroke="#111" stroke-width="1.15"/><line x1="176.0" y1="479.5" x2="179.8" y2="479.5" stroke="#111" stroke-width="1.15"/><line x1="176.0" y1="485.8" x2="179.8" y2="485.8" stroke="#111" stroke-width="1.15"/><line x1="126.6" y1="509.4" x2="126.6" y2="511.5" stroke="#111" stroke-width="1.15"/><line x1="124.69999999999999" y1="509.4" x2="128.5" y2="509.4" stroke="#111" stroke-width="1.15"/><line x1="124.69999999999999" y1="511.5" x2="128.5" y2="511.5" stroke="#111" stroke-width="1.15"/><line x1="143.7" y1="507.0" x2="143.7" y2="512.2" stroke="#111" stroke-width="1.15"/><line x1="141.79999999999998" y1="507.0" x2="145.6" y2="507.0" stroke="#111" stroke-width="1.15"/><line x1="141.79999999999998" y1="512.2" x2="145.6" y2="512.2" stroke="#111" stroke-width="1.15"/><line x1="160.7" y1="497.8" x2="160.7" y2="509.9" stroke="#111" stroke-width="1.15"/><line x1="158.79999999999998" y1="497.8" x2="162.6" y2="497.8" stroke="#111" stroke-width="1.15"/><line x1="158.79999999999998" y1="509.9" x2="162.6" y2="509.9" stroke="#111" stroke-width="1.15"/><line x1="177.9" y1="495.3" x2="177.9" y2="507.4" stroke="#111" stroke-width="1.15"/><line x1="176.0" y1="495.3" x2="179.8" y2="495.3" stroke="#111" stroke-width="1.15"/><line x1="176.0" y1="507.4" x2="179.8" y2="507.4" stroke="#111" stroke-width="1.15"/><polyline points="75.4,510.4 92.5,510.4 109.6,505.0 126.6,489.5 143.7,459.6 160.7,415.3 177.9,407.6" fill="none" stroke="#ee1c25" stroke-width="2.2" stroke-linejoin="round"/><path d="M72.7,510.4 L75.4,507.7 L78.10000000000001,510.4 L75.4,513.1Z" fill="#ee1c25"/><path d="M89.8,510.4 L92.5,507.7 L95.2,510.4 L92.5,513.1Z" fill="#ee1c25"/><path d="M106.89999999999999,505.0 L109.6,502.3 L112.3,505.0 L109.6,507.7Z" fill="#ee1c25"/><path d="M123.89999999999999,489.5 L126.6,486.8 L129.29999999999998,489.5 L126.6,492.2Z" fill="#ee1c25"/><path d="M141.0,459.6 L143.7,456.90000000000003 L146.39999999999998,459.6 L143.7,462.3Z" fill="#ee1c25"/><path d="M158.0,415.3 L160.7,412.6 L163.39999999999998,415.3 L160.7,418.0Z" fill="#ee1c25"/><path d="M175.20000000000002,407.6 L177.9,404.90000000000003 L180.6,407.6 L177.9,410.3Z" fill="#ee1c25"/><polyline points="75.4,510.4 92.5,510.4 109.6,501.1 126.6,489.5 143.7,473.6 160.7,456.8 177.9,433.3" fill="none" stroke="#1cb04c" stroke-width="2.2" stroke-linejoin="round"/><rect x="73.10000000000001" y="508.09999999999997" width="4.6" height="4.6" fill="#1cb04c"/><rect x="90.2" y="508.09999999999997" width="4.6" height="4.6" fill="#1cb04c"/><rect x="107.3" y="498.8" width="4.6" height="4.6" fill="#1cb04c"/><rect x="124.3" y="487.2" width="4.6" height="4.6" fill="#1cb04c"/><rect x="141.39999999999998" y="471.3" width="4.6" height="4.6" fill="#1cb04c"/><rect x="158.39999999999998" y="454.5" width="4.6" height="4.6" fill="#1cb04c"/><rect x="175.6" y="431.0" width="4.6" height="4.6" fill="#1cb04c"/><polyline points="75.4,510.4 92.5,510.4 109.6,510.4 126.6,507.6 143.7,501.3 160.7,486.1 177.9,482.7" fill="none" stroke="#1c75bc" stroke-width="2.2" stroke-linejoin="round"/><path d="M72.80000000000001,512.6 L78.0,512.6 L75.4,507.59999999999997Z" fill="#1c75bc"/><path d="M89.9,512.6 L95.1,512.6 L92.5,507.59999999999997Z" fill="#1c75bc"/><path d="M107.0,512.6 L112.19999999999999,512.6 L109.6,507.59999999999997Z" fill="#1c75bc"/><path d="M124.0,509.8 L129.2,509.8 L126.6,504.8Z" fill="#1c75bc"/><path d="M141.1,503.5 L146.29999999999998,503.5 L143.7,498.5Z" fill="#1c75bc"/><path d="M158.1,488.3 L163.29999999999998,488.3 L160.7,483.3Z" fill="#1c75bc"/><path d="M175.3,484.9 L180.5,484.9 L177.9,479.9Z" fill="#1c75bc"/><polyline points="75.4,510.4 92.5,510.4 109.6,510.4 126.6,510.4 143.7,509.6 160.7,503.8 177.9,501.3" fill="none" stroke="#7d3f98" stroke-width="2.2" stroke-linejoin="round"/><circle cx="75.4" cy="510.4" r="2.5" fill="#7d3f98"/><circle cx="92.5" cy="510.4" r="2.5" fill="#7d3f98"/><circle cx="109.6" cy="510.4" r="2.5" fill="#7d3f98"/><circle cx="126.6" cy="510.4" r="2.5" fill="#7d3f98"/><circle cx="143.7" cy="509.6" r="2.5" fill="#7d3f98"/><circle cx="160.7" cy="503.8" r="2.5" fill="#7d3f98"/><circle cx="177.9" cy="501.3" r="2.5" fill="#7d3f98"/><line x1="68.7" y1="380.8" x2="79.2" y2="380.8" stroke="#ee1c25" stroke-width="1.6"/><circle cx="74" cy="380.8" r="1.8" fill="#ee1c25"/><text transform="translate(81.2 385) scale(0.965 1)" font-size="9.7" font-weight="normal" text-anchor="start" fill="#000" stroke="#000" stroke-width="0.5" stroke-linejoin="round">Control</text><line x1="68.7" y1="394.4" x2="79.2" y2="394.4" stroke="#1cb04c" stroke-width="1.6"/><circle cx="74" cy="394.4" r="1.8" fill="#1cb04c"/><text transform="translate(81.2 398.8) scale(0.965 1)" font-size="9.7" font-weight="normal" text-anchor="start" fill="#000" stroke="#000" stroke-width="0.5" stroke-linejoin="round">TPCA1</text><line x1="68.7" y1="408.8" x2="79.2" y2="408.8" stroke="#1c75bc" stroke-width="1.6"/><circle cx="74" cy="408.8" r="1.8" fill="#1c75bc"/><text transform="translate(81.2 412.5) scale(0.965 1)" font-size="9.7" font-weight="normal" text-anchor="start" fill="#000" stroke="#000" stroke-width="0.5" stroke-linejoin="round">GANT61</text><line x1="68.7" y1="422.1" x2="79.2" y2="422.1" stroke="#7d3f98" stroke-width="1.6"/><circle cx="74" cy="422.1" r="1.8" fill="#7d3f98"/><text transform="translate(81.2 426) scale(0.965 1)" font-size="9.7" font-weight="normal" text-anchor="start" fill="#000" stroke="#000" stroke-width="0.5" stroke-linejoin="round">TPCA1+GANT61</text><text transform="translate(95.2 477.3) scale(1.025 1)" font-size="9.2" font-weight="normal" text-anchor="middle" fill="#000" stroke="#000" stroke-width="0.55" stroke-linejoin="round">Treatment</text><text transform="translate(94.8 488.5) scale(1.01 1)" font-size="9.2" font-weight="normal" text-anchor="middle" fill="#000" stroke="#000" stroke-width="0.55" stroke-linejoin="round">started</text><text transform="translate(223.6 379.7) scale(1.037 1)" font-size="9.1" font-weight="normal" text-anchor="middle" fill="#000" stroke="#000" stroke-width="0.55" stroke-linejoin="round">All control mice</text><text transform="translate(223.4 391.4) scale(1.037 1)" font-size="9.1" font-weight="normal" text-anchor="middle" fill="#000" stroke="#000" stroke-width="0.55" stroke-linejoin="round">were euthanized</text><line x1="78.7" y1="496.5" x2="78.7" y2="506.2" stroke="#000" stroke-width="2.4"/><path d="M74.7,501.7 L78.7,506.7 L82.7,501.7" fill="none" stroke="#000" stroke-width="2.6" stroke-linejoin="miter"/><line x1="178.8" y1="379.7" x2="178.8" y2="390.3" stroke="#000" stroke-width="2.4"/><path d="M174.8,385.8 L178.8,390.8 L182.8,385.8" fill="none" stroke="#000" stroke-width="2.6" stroke-linejoin="miter"/><text x="164.2" y="481.09999999999997" font-size="10.5" font-weight="bold" text-anchor="middle" fill="#000" stroke="#000" stroke-width="0.5">*</text><text x="177.7" y="477.2" font-size="10.5" font-weight="bold" text-anchor="middle" fill="#000" stroke="#000" stroke-width="0.5">*</text><text x="178.7" y="496.09999999999997" font-size="10.5" font-weight="bold" text-anchor="middle" fill="#000" stroke="#000" stroke-width="0.5">*</text><text x="162" y="502.2" font-size="10.5" font-weight="bold" text-anchor="middle" fill="#000" stroke="#000" stroke-width="0.5">*</text></g>
<g id="panelF"><text x="289" y="379.3" font-size="17.3" font-weight="bold" stroke="#000" stroke-width="0.5" text-anchor="start" fill="#000">F</text><line x1="309.6" y1="394.3" x2="319.2" y2="394.3" stroke="#ed1c24" stroke-width="1.8"/><line x1="314.4" y1="392.5" x2="314.4" y2="394.8" stroke="#ed1c24" stroke-width="1.2"/><text x="324.6" y="400" font-size="10.3" font-weight="normal" text-anchor="start" fill="#000" stroke="#000" stroke-width="0.55" stroke-linejoin="round">Control (n=4)</text><line x1="392.5" y1="394.8" x2="402" y2="394.8" stroke="#1c22ac" stroke-width="1.8"/><line x1="397.25" y1="393.0" x2="397.25" y2="395.3" stroke="#1c22ac" stroke-width="1.2"/><text x="406.8" y="400.6" font-size="10.55" font-weight="normal" text-anchor="start" fill="#000" stroke="#000" stroke-width="0.55" stroke-linejoin="round">GANT61 (n=5)</text><line x1="309.6" y1="407.7" x2="319.2" y2="407.7" stroke="#168a32" stroke-width="1.8"/><line x1="314.4" y1="405.9" x2="314.4" y2="408.2" stroke="#168a32" stroke-width="1.2"/><text x="324.6" y="412.8" font-size="10.3" font-weight="normal" text-anchor="start" fill="#000" stroke="#000" stroke-width="0.55" stroke-linejoin="round">TPCA1 (n=6)</text><line x1="392.5" y1="408.2" x2="402" y2="408.2" stroke="#8b2055" stroke-width="1.8"/><line x1="397.25" y1="406.4" x2="397.25" y2="408.7" stroke="#8b2055" stroke-width="1.2"/><text x="406.8" y="413.4" font-size="10.5" font-weight="normal" text-anchor="start" fill="#000" stroke="#000" stroke-width="0.55" stroke-linejoin="round">TPCA1+GANT61 (n=5)</text><path d="M333.3,426.5 L465.6,426.5" stroke="#8b2055" stroke-width="2.2" fill="none" stroke-linejoin="miter"/><path d="M333.3,426.5 L423.1,426.5 L423.1,442.6 L442.0,442.6 L442.0,458.7 L465.6,458.7" stroke="#1c22ac" stroke-width="2.2" fill="none" stroke-linejoin="miter"/><path d="M333.3,426.5 L399.4,426.5 L399.4,442.2 L408.9,442.2 L408.9,466.8 L423.1,466.8 L423.1,493.4 L465.6,493.4" stroke="#168a32" stroke-width="2.2" fill="none" stroke-linejoin="miter"/><path d="M333.3,426.5 L390.0,426.5 L390.0,446.7 L399.4,446.7 L399.4,487.0 L413.6,487.0 L413.6,507.1" stroke="#ed1c24" stroke-width="2.2" fill="none" stroke-linejoin="miter"/><line x1="333.3" y1="419.2" x2="333.3" y2="507.90000000000003" stroke="#000" stroke-width="1.7"/><line x1="332.5" y1="507.1" x2="466.5" y2="507.1" stroke="#000" stroke-width="1.7"/><line x1="329.7" y1="507.1" x2="333.3" y2="507.1" stroke="#000" stroke-width="1.4"/><text x="324.6" y="513.7" font-size="10.2" font-weight="bold" text-anchor="end" fill="#000">0</text><line x1="329.7" y1="487.0" x2="333.3" y2="487.0" stroke="#000" stroke-width="1.4"/><text x="326.9" y="493.6" font-size="10.2" font-weight="bold" text-anchor="end" fill="#000">25</text><line x1="329.7" y1="466.8" x2="333.3" y2="466.8" stroke="#000" stroke-width="1.4"/><text x="326.9" y="473.40000000000003" font-size="10.2" font-weight="bold" text-anchor="end" fill="#000">50</text><line x1="329.7" y1="446.7" x2="333.3" y2="446.7" stroke="#000" stroke-width="1.4"/><text x="326.9" y="453.3" font-size="10.2" font-weight="bold" text-anchor="end" fill="#000">75</text><line x1="329.7" y1="426.5" x2="333.3" y2="426.5" stroke="#000" stroke-width="1.4"/><text x="326.9" y="433.1" font-size="10.2" font-weight="bold" text-anchor="end" fill="#000">100</text><line x1="333.3" y1="507.1" x2="333.3" y2="510.40000000000003" stroke="#000" stroke-width="1.4"/><text x="333.3" y="521.5" font-size="10.2" font-weight="bold" text-anchor="middle" fill="#000">0</text><line x1="366.4" y1="507.1" x2="366.4" y2="510.40000000000003" stroke="#000" stroke-width="1.4"/><text x="366.4" y="521.5" font-size="10.2" font-weight="bold" text-anchor="middle" fill="#000">7</text><line x1="399.4" y1="507.1" x2="399.4" y2="510.40000000000003" stroke="#000" stroke-width="1.4"/><text x="399.4" y="521.5" font-size="10.2" font-weight="bold" text-anchor="middle" fill="#000">14</text><line x1="432.5" y1="507.1" x2="432.5" y2="510.40000000000003" stroke="#000" stroke-width="1.4"/><text x="432.5" y="521.5" font-size="10.2" font-weight="bold" text-anchor="middle" fill="#000">21</text><line x1="465.6" y1="507.1" x2="465.6" y2="510.40000000000003" stroke="#000" stroke-width="1.4"/><text x="465.6" y="521.5" font-size="10.2" font-weight="bold" text-anchor="middle" fill="#000">28</text><text x="402" y="534.7" font-size="11" font-weight="normal" text-anchor="middle" fill="#000" stroke="#000" stroke-width="0.35" stroke-linejoin="round">Days</text><text x="306.5" y="471.5" font-size="11.3" font-weight="normal" text-anchor="middle" fill="#000" transform="rotate(-90 306.5 471.5)" stroke="#000" stroke-width="0.35" stroke-linejoin="round">% mice alive</text><path d="M463.3,463.3 Q466.2,463.3 466.2,466 L466.2,473.8 Q466.2,475.8 468,475.8 Q466.2,475.8 466.2,477.8 L466.2,485.6 Q466.2,488.3 463.3,488.3" stroke="#000" stroke-width="1.7" fill="none"/><text x="476" y="482.8" font-size="12" font-weight="bold" text-anchor="middle" fill="#000">*</text></g>
<g id="panelG"><text x="-0.3" y="559" font-size="17.3" font-weight="bold" stroke="#000" stroke-width="0.5" text-anchor="start" fill="#000">G</text><text x="93.6" y="575.8" font-size="10.2" font-weight="bold" text-anchor="middle" fill="#000" font-style="italic">GLI1</text><text x="192.3" y="575.3" font-size="10.2" font-weight="bold" text-anchor="middle" fill="#000" font-style="italic">PTCH1</text><line x1="39.2" y1="597.7" x2="41.5" y2="597.7" stroke="#111" stroke-width="1.2"/><text x="30.8" y="601.4000000000001" font-size="10" font-weight="bold" text-anchor="middle" fill="#000" stroke="#000" stroke-width="0.25">100</text><line x1="39.2" y1="641.3" x2="41.5" y2="641.3" stroke="#111" stroke-width="1.2"/><text x="30.8" y="645.0" font-size="10" font-weight="bold" text-anchor="middle" fill="#000" stroke="#000" stroke-width="0.25">50</text><line x1="39.2" y1="684.9" x2="41.5" y2="684.9" stroke="#111" stroke-width="1.2"/><text x="30.8" y="688.6" font-size="10" font-weight="bold" text-anchor="middle" fill="#000" stroke="#000" stroke-width="0.25">0</text><text transform="translate(18.8 645) rotate(-90) scale(0.93 1)" font-size="10.2" font-weight="normal" text-anchor="middle" fill="#000" stroke="#000" stroke-width="0.5" stroke-linejoin="round">Relative mRNA expression (%)</text><line x1="140.5" y1="580.4" x2="140.5" y2="684.9" stroke="#1a1a1a" stroke-width="1.4" stroke-dasharray="1.3 1.2"/><rect x="41.5" y="580.4" width="199.0" height="104.5" fill="none" stroke="#111" stroke-width="1.3"/><line x1="52.5" y1="684.9" x2="52.5" y2="688.4" stroke="#111" stroke-width="1.2"/><text transform="translate(55.9 691.2) rotate(-90) scale(0.97 1)" font-size="9.2" font-weight="normal" text-anchor="end" fill="#000" stroke="#000" stroke-width="0.5" stroke-linejoin="round">Control</text><line x1="80.8" y1="684.9" x2="80.8" y2="688.4" stroke="#111" stroke-width="1.2"/><text transform="translate(84.2 691.2) rotate(-90) scale(0.97 1)" font-size="9.2" font-weight="normal" text-anchor="end" fill="#000" stroke="#000" stroke-width="0.5" stroke-linejoin="round">GANT61</text><line x1="101.8" y1="684.9" x2="101.8" y2="688.4" stroke="#111" stroke-width="1.2"/><text transform="translate(105.2 691.2) rotate(-90) scale(0.97 1)" font-size="9.2" font-weight="normal" text-anchor="end" fill="#000" stroke="#000" stroke-width="0.5" stroke-linejoin="round">TPCA1</text><line x1="129.8" y1="684.9" x2="129.8" y2="688.4" stroke="#111" stroke-width="1.2"/><text transform="translate(126.80000000000001 689.5) rotate(-90) scale(0.98 1)" font-size="9.2" font-weight="normal" text-anchor="end" fill="#000" stroke="#000" stroke-width="0.5" stroke-linejoin="round">GANT61+</text><text transform="translate(137.60000000000002 694.5) rotate(-90) scale(0.97 1)" font-size="9.2" font-weight="normal" text-anchor="end" fill="#000" stroke="#000" stroke-width="0.5" stroke-linejoin="round">TPCA1</text><line x1="151.6" y1="684.9" x2="151.6" y2="688.4" stroke="#111" stroke-width="1.2"/><text transform="translate(155.0 691.2) rotate(-90) scale(0.97 1)" font-size="9.2" font-weight="normal" text-anchor="end" fill="#000" stroke="#000" stroke-width="0.5" stroke-linejoin="round">Control</text><line x1="180" y1="684.9" x2="180" y2="688.4" stroke="#111" stroke-width="1.2"/><text transform="translate(183.4 691.2) rotate(-90) scale(0.97 1)" font-size="9.2" font-weight="normal" text-anchor="end" fill="#000" stroke="#000" stroke-width="0.5" stroke-linejoin="round">GANT61</text><line x1="201.5" y1="684.9" x2="201.5" y2="688.4" stroke="#111" stroke-width="1.2"/><text transform="translate(204.9 691.2) rotate(-90) scale(0.97 1)" font-size="9.2" font-weight="normal" text-anchor="end" fill="#000" stroke="#000" stroke-width="0.5" stroke-linejoin="round">TPCA1</text><line x1="229.5" y1="684.9" x2="229.5" y2="688.4" stroke="#111" stroke-width="1.2"/><text transform="translate(226.5 689.5) rotate(-90) scale(0.98 1)" font-size="9.2" font-weight="normal" text-anchor="end" fill="#000" stroke="#000" stroke-width="0.5" stroke-linejoin="round">GANT61+</text><text transform="translate(237.3 694.5) rotate(-90) scale(0.97 1)" font-size="9.2" font-weight="normal" text-anchor="end" fill="#000" stroke="#000" stroke-width="0.5" stroke-linejoin="round">TPCA1</text><line x1="45.5" y1="602.7" x2="59.5" y2="602.7" stroke="#e0202a" stroke-width="1.1"/><circle cx="51.3" cy="599.6" r="1.35" fill="#e0202a"/><circle cx="53.7" cy="600" r="1.35" fill="#e0202a"/><circle cx="52.5" cy="606" r="1.35" fill="#e0202a"/><line x1="73.8" y1="643.6" x2="87.8" y2="643.6" stroke="#2020c8" stroke-width="1.1"/><circle cx="78.6" cy="642.3" r="1.35" fill="#2020c8"/><circle cx="82.8" cy="642.6" r="1.35" fill="#2020c8"/><circle cx="80.8" cy="644.8" r="1.35" fill="#2020c8"/><line x1="94.8" y1="640.8" x2="108.8" y2="640.8" stroke="#1d8038" stroke-width="1.1"/><circle cx="101.8" cy="637.9" r="1.35" fill="#1d8038"/><circle cx="102.1" cy="640.2" r="1.35" fill="#1d8038"/><circle cx="101.5" cy="644.2" r="1.35" fill="#1d8038"/><line x1="122.80000000000001" y1="649.4" x2="136.8" y2="649.4" stroke="#701a85" stroke-width="1.1"/><circle cx="130.10000000000002" cy="637.9" r="1.35" fill="#701a85"/><circle cx="129.8" cy="654.6" r="1.35" fill="#701a85"/><circle cx="129.3" cy="657" r="1.35" fill="#701a85"/><line x1="144.6" y1="616.2" x2="158.6" y2="616.2" stroke="#e0202a" stroke-width="1.1"/><circle cx="151.6" cy="597.5" r="1.35" fill="#e0202a"/><circle cx="151.6" cy="620" r="1.35" fill="#e0202a"/><circle cx="151.6" cy="631.5" r="1.35" fill="#e0202a"/><line x1="173" y1="669.6" x2="187" y2="669.6" stroke="#2020c8" stroke-width="1.1"/><circle cx="179.2" cy="666.5" r="1.35" fill="#2020c8"/><circle cx="180.8" cy="667" r="1.35" fill="#2020c8"/><circle cx="180" cy="674" r="1.35" fill="#2020c8"/><line x1="194.5" y1="661.8" x2="208.5" y2="661.8" stroke="#1d8038" stroke-width="1.1"/><circle cx="201.5" cy="640.8" r="1.35" fill="#1d8038"/><circle cx="201.5" cy="670.5" r="1.35" fill="#1d8038"/><circle cx="201.5" cy="675.4" r="1.35" fill="#1d8038"/><line x1="222.5" y1="672.5" x2="236.5" y2="672.5" stroke="#701a85" stroke-width="1.1"/><circle cx="229.5" cy="654.6" r="1.35" fill="#701a85"/><circle cx="230.1" cy="681.6" r="1.35" fill="#701a85"/><circle cx="228.7" cy="683.6" r="1.35" fill="#701a85"/><line x1="67.8" y1="599.2" x2="127.8" y2="599.2" stroke="#000" stroke-width="1.5"/><line x1="69.2" y1="609.9" x2="105.3" y2="609.9" stroke="#000" stroke-width="1.5"/><line x1="63.5" y1="621.4" x2="82.2" y2="621.4" stroke="#000" stroke-width="1.5"/><line x1="166" y1="597.8" x2="225.8" y2="597.8" stroke="#000" stroke-width="1.5"/><line x1="161.7" y1="620.6" x2="180" y2="620.6" stroke="#000" stroke-width="1.5"/><text x="103" y="599" font-size="11" font-weight="bold" text-anchor="middle" fill="#000">*</text><text x="88" y="610.5" font-size="11" font-weight="bold" text-anchor="middle" fill="#000">**</text><text x="72.3" y="621.8" font-size="11" font-weight="bold" text-anchor="middle" fill="#000">***</text><text x="201" y="598" font-size="11" font-weight="bold" text-anchor="middle" fill="#000">*</text><text x="170.4" y="620.5" font-size="11" font-weight="bold" text-anchor="middle" fill="#000">*</text></g>
<g id="panelH"><text x="289" y="558" font-size="17.3" font-weight="bold" stroke="#000" stroke-width="0.5" text-anchor="start" fill="#000">H</text><text x="320" y="558.4" font-size="9.5" font-weight="normal" text-anchor="middle" fill="#000" stroke="#000" stroke-width="0.45" stroke-linejoin="round">TNFα</text><path d="M315.35,563 L319.85,563 L319.85,571.4 L323.1,570.1999999999999 L317.6,579 L312.1,570.1999999999999 L315.35,571.4Z" fill="#000"/><ellipse cx="354.6" cy="587.8" rx="19" ry="9" fill="url(#gGreen)" stroke="#93b56b" stroke-width="0.8"/><ellipse cx="368.8" cy="582.5" rx="23.6" ry="11.4" fill="url(#gGreen)" stroke="#93b56b" stroke-width="0.8"/><text x="369.5" y="585.9" font-size="9.5" font-weight="normal" text-anchor="middle" fill="#000" stroke="#000" stroke-width="0.55" stroke-linejoin="round">GLI1</text><ellipse cx="335.3" cy="596.3" rx="14.2" ry="8.7" fill="url(#gPink)" filter="url(#blur05)"/><ellipse cx="315.2" cy="608.8" rx="14.6" ry="10.7" fill="url(#gBlue)" filter="url(#blur05)"/><ellipse cx="341.6" cy="612.3" rx="13.4" ry="9.1" fill="url(#gPeach)" filter="url(#blur05)"/><text x="334" y="598.8" font-size="9.8" font-weight="normal" text-anchor="middle" fill="#33202b" stroke="#33202b" stroke-width="0.5" stroke-linejoin="round">IKKβ</text><text x="315.7" y="612.7" font-size="9.8" font-weight="normal" text-anchor="middle" fill="#0c1c30" stroke="#0c1c30" stroke-width="0.5" stroke-linejoin="round">IKKα</text><text x="341.6" y="616.5" font-size="9.8" font-weight="normal" text-anchor="middle" fill="#261b10" stroke="#261b10" stroke-width="0.5" stroke-linejoin="round">IKKγ</text><ellipse cx="324.2" cy="584.2" rx="7.6" ry="4.9" fill="url(#gMust)"/><text x="324.8" y="588.0" font-size="10.6" font-weight="bold" text-anchor="middle" fill="#000">P</text><ellipse cx="338.6" cy="576.2" rx="7.8" ry="4.9" fill="#000"/><text x="339.40000000000003" y="579.9000000000001" font-size="10.4" font-weight="bold" text-anchor="middle" fill="#fff">P</text><ellipse cx="386" cy="606.8" rx="14" ry="12.5" fill="url(#gGray)"/><text x="386.2" y="610" font-size="9.3" font-weight="normal" text-anchor="middle" fill="#000" stroke="#000" stroke-width="0.5" stroke-linejoin="round">ITCH</text><path d="M330.25,625 L334.75,625 L334.75,633.0 L338.0,631.8 L332.5,640.6 L327.0,631.8 L330.25,633.0Z" fill="#000"/><path d="M367.35,610 L371.85,610 L371.85,618.1999999999999 L375.1,616.9999999999999 L369.6,625.8 L364.1,616.9999999999999 L367.35,618.1999999999999Z" fill="#000"/><path d="M367.65,641.5 L372.15,641.5 L372.15,649.4 L375.4,648.1999999999999 L369.9,657 L364.4,648.1999999999999 L367.65,649.4Z" fill="#000"/><ellipse cx="314.2" cy="638.7" rx="6.6" ry="4.5" fill="url(#gMust)"/><text x="314.8" y="642.5" font-size="10.6" font-weight="bold" text-anchor="middle" fill="#000">P</text><ellipse cx="332.5" cy="661.1" rx="9.2" ry="8.4" fill="url(#gYel)" filter="url(#blur05)"/><ellipse cx="322.7" cy="649.5" rx="11" ry="9.3" fill="url(#gGray2)"/><text x="322.9" y="651.6" font-size="9.8" font-weight="normal" text-anchor="middle" fill="#000" stroke="#000" stroke-width="0.5" stroke-linejoin="round">p65</text><text x="332.5" y="664.8000000000001" font-size="9.8" font-weight="normal" text-anchor="middle" fill="#000" stroke="#000" stroke-width="0.5" stroke-linejoin="round">p50</text><path d="M289.50,706.20 A64.8,31.2 0 0 1 418.50,700.20 A64.8,31.2 0 0 1 289.50,706.20" fill="none" stroke="#d83a44" stroke-width="2.2" stroke-dasharray="17.3 6.6 2.2 6.4 2.2 6.3"/><path d="M327.35,674.6 L331.85,674.6 L331.85,683.0 L335.1,681.8 L329.6,690.6 L324.1,681.8 L327.35,683.0Z" fill="#000"/><path d="M367.65,671.3 L372.15,671.3 L372.15,679.1 L375.4,677.9 L369.9,686.7 L364.4,677.9 L367.65,679.1Z" fill="#000"/><ellipse cx="322.7" cy="698.9" rx="6.6" ry="4.5" fill="url(#gMust)"/><text x="323.3" y="702.6999999999999" font-size="10.6" font-weight="bold" text-anchor="middle" fill="#000">P</text><ellipse cx="340.8" cy="720.6999999999999" rx="9.2" ry="8.4" fill="url(#gYel)" filter="url(#blur05)"/><ellipse cx="331" cy="709.0999999999999" rx="11" ry="9.3" fill="url(#gGray2)"/><text x="331.2" y="711.1999999999999" font-size="9.8" font-weight="normal" text-anchor="middle" fill="#000" stroke="#000" stroke-width="0.5" stroke-linejoin="round">p65</text><text x="340.8" y="724.4" font-size="9.8" font-weight="normal" text-anchor="middle" fill="#000" stroke="#000" stroke-width="0.5" stroke-linejoin="round">p50</text><ellipse cx="379.4" cy="700.8" rx="17.3" ry="6.8" fill="url(#gGreen2)"/><path d="M377.6,695.5 L377.6,688.2 Q377.6,686.6 379.2,686.6 L385.5,686.6" stroke="#5f8c92" stroke-width="3.6" fill="none"/><path d="M377.6,695.5 L377.6,688.2 Q377.6,686.6 379.2,686.6 L385.5,686.6" stroke="#8fb9bd" stroke-width="2.4" fill="none"/><path d="M384.8,682.6 L390,686.6 L384.8,690.6Z" fill="#8fb9bd" stroke="#5f8c92" stroke-width="0.6"/><text x="379.5" y="703.2" font-size="9.8" font-weight="normal" text-anchor="middle" fill="#000" stroke="#000" stroke-width="0.55" stroke-linejoin="round">GLI1</text><ellipse cx="365" cy="692" rx="8" ry="4.9" fill="#000"/><text x="365.8" y="695.7" font-size="10.4" font-weight="bold" text-anchor="middle" fill="#fff">P</text><line x1="427.3" y1="604.6" x2="482" y2="590.6" stroke="#f0141e" stroke-width="3.4"/><text x="455.5" y="600.8" font-size="9.5" font-weight="normal" text-anchor="middle" fill="#2a0508" stroke="#2a0508" stroke-width="0.45" stroke-linejoin="round">TNFα</text><path d="M452.35,606 L456.85,606 L456.85,613.6999999999999 L460.1,612.4999999999999 L454.6,621.3 L449.1,612.4999999999999 L452.35,613.6999999999999Z" fill="#000"/><ellipse cx="497" cy="621.3" rx="24" ry="9.7" fill="url(#gGreen)" stroke="#9dbd78" stroke-width="0.6"/><text x="497" y="626.4" font-size="9.8" font-weight="normal" text-anchor="middle" fill="#000" stroke="#000" stroke-width="0.55" stroke-linejoin="round">GLI1</text><clipPath id="cub1"><ellipse cx="474.2" cy="614.2" rx="7.4" ry="5"/></clipPath><clipPath id="cub2"><ellipse cx="485.4" cy="609.2" rx="7.5" ry="4.9"/></clipPath><ellipse cx="474.2" cy="614.2" rx="7.8" ry="5.4" fill="#000"/><text x="469.9" y="618" font-size="10.2" font-weight="bold" text-anchor="start" fill="#fff" clip-path="url(#cub1)">Ub</text><ellipse cx="485.4" cy="609.2" rx="7.9" ry="5.3" fill="#000"/><text x="481.6" y="613" font-size="10.2" font-weight="bold" text-anchor="start" fill="#fff" clip-path="url(#cub2)">Ub</text><ellipse cx="471" cy="637.7" rx="14.2" ry="8.7" fill="url(#gPink)" filter="url(#blur05)"/><ellipse cx="451.7" cy="652.7" rx="14.6" ry="10.7" fill="url(#gBlue)" filter="url(#blur05)"/><ellipse cx="477.3" cy="656.5" rx="13.4" ry="9.1" fill="url(#gPeach)" filter="url(#blur05)"/><text x="470.8" y="641.2" font-size="9.8" font-weight="normal" text-anchor="middle" fill="#33202b" stroke="#33202b" stroke-width="0.5" stroke-linejoin="round">IKKβ</text><text x="452.7" y="656" font-size="9.8" font-weight="normal" text-anchor="middle" fill="#0c1c30" stroke="#0c1c30" stroke-width="0.5" stroke-linejoin="round">IKKα</text><text x="477" y="660.8" font-size="9.8" font-weight="normal" text-anchor="middle" fill="#261b10" stroke="#261b10" stroke-width="0.5" stroke-linejoin="round">IKKγ</text><ellipse cx="498.5" cy="637.7" rx="15.2" ry="12.2" fill="url(#gGray)"/><text x="498.9" y="640.7" font-size="9.4" font-weight="normal" text-anchor="middle" fill="#000" stroke="#000" stroke-width="0.5" stroke-linejoin="round">ITCH</text><path d="M462.35,667.7 L466.85,667.7 L466.85,675.4 L470.1,674.1999999999999 L464.6,683 L459.1,674.1999999999999 L462.35,675.4Z" fill="#000"/><ellipse cx="450.8" cy="682.5" rx="6.7" ry="4.4" fill="url(#gMust)"/><text x="451.40000000000003" y="686.3" font-size="10.6" font-weight="bold" text-anchor="middle" fill="#000">P</text><ellipse cx="468.6" cy="704.9" rx="9.2" ry="8.4" fill="url(#gYel)" filter="url(#blur05)"/><ellipse cx="458.8" cy="693.3" rx="11" ry="9.3" fill="url(#gGray2)"/><text x="459.0" y="695.4" font-size="9.8" font-weight="normal" text-anchor="middle" fill="#000" stroke="#000" stroke-width="0.5" stroke-linejoin="round">p65</text><text x="468.6" y="708.6" font-size="9.8" font-weight="normal" text-anchor="middle" fill="#000" stroke="#000" stroke-width="0.5" stroke-linejoin="round">p50</text></g>
</g>
</svg>
</body></html>
